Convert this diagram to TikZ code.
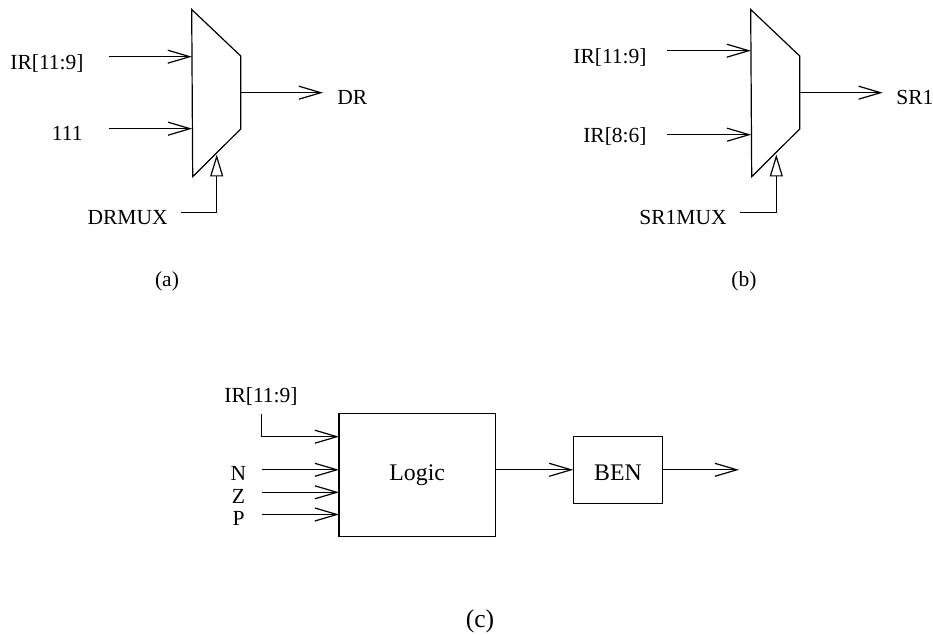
\documentclass[tikz,border=0pt]{standalone}
\usepackage{fontspec}
\setmainfont{Liberation Serif}
\usetikzlibrary{arrows.meta}
\usetikzlibrary{positioning}
\tikzset{wire/.style = {line width = 0.6pt}}
\tikzset{arr/.style = {wire, -{Straight Barb[length = 11pt, width = 6.5pt, line width = 0.6pt]}}}
\tikzset{ctrl/.style = {wire, -{Triangle[open, length = 11pt, width = 6.5pt, line width = 0.6pt]}}}
\tikzset{lbl/.style = {inner sep = 0, font = \fontsize{10.75}{12}\selectfont}}
\tikzset{blk/.style = {draw, wire, inner sep = 0, outer sep = 0, font = \fontsize{11.9}{13}\selectfont}}

\begin{document}
\begin{tikzpicture}[x=0.5pt, y=-0.5pt]
    \useasboundingbox (0, 0) rectangle (933, 635);

    % mux (a)
    \coordinate (muxAa) at (191.7, 9.5);
    \coordinate (muxAb) at (240.7, 56);
    \coordinate (muxAc) at (240.7, 129);
    \coordinate (muxAd) at (192.7, 176.7);
    \draw [wire] (muxAa) -- (muxAb) -- (muxAc) -- (muxAd) -- cycle;
    \coordinate (inAa) at (108.7, 56.7);
    \coordinate (tipAa) at (191.9, 56.7);
    \coordinate (inAb) at (108.7, 128.7);
    \coordinate (tipAb) at (192.2, 128.7);
    \coordinate (outAa) at (240.7, 92.7);
    \coordinate (outAb) at (323, 92.7);
    \coordinate (selA) at (180.7, 212.3);
    \coordinate (tipA) at (216.7, 154.5);
    \draw [arr] (inAa) -- (tipAa);
    \draw [arr] (inAb) -- (tipAb);
    \draw [arr] (outAa) -- (outAb);
    \draw [ctrl] (selA) -| (tipA);
    \node (irA) [lbl, anchor = base east] at (84, 70) {IR[11:9]};
    \node (oneA) [lbl, anchor = base east] at (83, 141) {111};
    \node (drA) [lbl, anchor = base west] at (337, 105) {DR};
    \node (drmux) [lbl, anchor = base east] at (168, 225) {DRMUX};
    \node (capA) [lbl, anchor = base] at (167, 287) {(a)};

    % mux (b)
    \coordinate (muxBa) at (750.7, 9.5);
    \coordinate (muxBb) at (799.7, 56);
    \coordinate (muxBc) at (799.7, 129);
    \coordinate (muxBd) at (751.7, 176.7);
    \draw [wire] (muxBa) -- (muxBb) -- (muxBc) -- (muxBd) -- cycle;
    \coordinate (inBa) at (667.3, 50.7);
    \coordinate (tipBa) at (750.9, 50.7);
    \coordinate (inBb) at (667.3, 134.7);
    \coordinate (tipBb) at (751.2, 134.7);
    \coordinate (outBa) at (799.7, 92.7);
    \coordinate (outBb) at (882.7, 92.7);
    \coordinate (selB) at (740, 212.3);
    \coordinate (tipB) at (776.3, 154.5);
    \draw [arr] (inBa) -- (tipBa);
    \draw [arr] (inBb) -- (tipBb);
    \draw [arr] (outBa) -- (outBb);
    \draw [ctrl] (selB) -| (tipB);
    \node (irB) [lbl, anchor = base east] at (647, 64) {IR[11:9]};
    \node (irC) [lbl, anchor = base east] at (647, 142.7) {IR[8:6]};
    \node (srA) [lbl, anchor = base west] at (896, 105) {SR1};
    \node (srmux) [lbl, anchor = base east] at (727, 225) {SR1MUX};
    \node (capB) [lbl, anchor = base] at (744, 287) {(b)};

    % logic (c)
    \node (logic) [blk, minimum width = 78.2pt, minimum height = 61.5pt, text height = 8.4pt, text depth = 2.4pt] at (417.2, 475) {Logic};
    \node (ben) [blk, minimum width = 44.7pt, minimum height = 33.5pt, text height = 11.2pt, text depth = 0pt] at (618, 469.8) {BEN};
    \coordinate (inCa) at (261.6, 414);
    \coordinate (inCb) at (261.6, 436.7);
    \coordinate (inN) at (261.6, 469.8);
    \coordinate (inZ) at (261.6, 492.3);
    \coordinate (inP) at (261.6, 514.5);
    \coordinate (outC) at (739, 469.8);
    \draw [arr] (inCa) -- (inCb) -- (logic.west |- inCb);
    \draw [arr] (inN) -- (logic.west |- inN);
    \draw [arr] (inZ) -- (logic.west |- inZ);
    \draw [arr] (inP) -- (logic.west |- inP);
    \draw [arr] (logic.east |- ben.west) -- (ben.west);
    \draw [arr] (ben.east) -- (outC);
    \node (irD) [lbl, anchor = base] at (261, 402.7) {IR[11:9]};
    \node (nIn) [lbl, anchor = base] at (238.5, 481) {N};
    \node (zIn) [lbl, anchor = base] at (238.5, 504) {Z};
    \node (pIn) [lbl, anchor = base] at (238.5, 525.5) {P};
    \node (capC) [lbl, anchor = base, font = \fontsize{12.8}{14}\selectfont] at (480, 628) {(c)};
  \end{tikzpicture}
\end{document}
